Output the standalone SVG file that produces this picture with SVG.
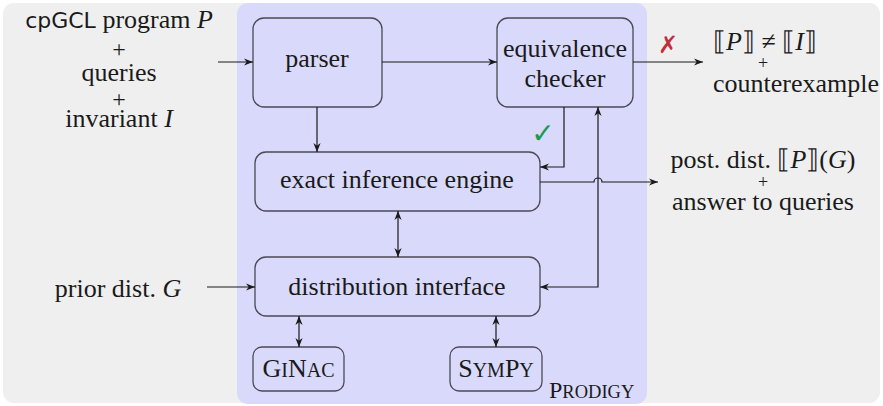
<svg xmlns="http://www.w3.org/2000/svg" width="883" height="406" viewBox="0 0 883 406">
<defs>
<marker id="arr" viewBox="0 0 10 10" refX="10" refY="5" markerWidth="9" markerHeight="9" orient="auto-start-reverse" markerUnits="userSpaceOnUse">
<path d="M0,1 L10,5 L0,9 L3,5 z" fill="#1a1a1a"/>
</marker>
<style>
.box{fill:#d9d9fb;stroke:#4a4a55;stroke-width:1.3}
.t{font-family:'Liberation Serif','Times New Roman','DejaVu Serif',serif;font-size:26px;fill:#1a1a1a}
.m{text-anchor:middle}
.ca{fill:none;stroke:#1a1a1a;stroke-width:1.2;marker-end:url(#arr)}
.cb{fill:none;stroke:#1a1a1a;stroke-width:1.2;marker-end:url(#arr);marker-start:url(#arr)}
.sc{font-size:20px}
.pl{font-size:24px}
.pr{font-size:18px}
.sym{font-family:'DejaVu Sans',sans-serif;text-anchor:middle}
</style>
</defs>
<rect x="3" y="3" width="877" height="400" rx="11" fill="#efefef"/>
<g id="prodigy">
<rect x="237" y="3" width="410" height="401" rx="11" fill="#d9d9fb"/>
<text class="t" x="549" y="398" style="font-size:24px">P<tspan style="font-size:18.5px">RODIGY</tspan></text>
</g>
<g id="inputs">
<text class="t m" x="119" y="28"><tspan style="font-family:'DejaVu Sans','Liberation Sans',sans-serif;font-size:22px">cpGCL</tspan> program <tspan font-style="italic">P</tspan></text>
<text class="t m pl" x="119" y="57">+</text>
<text class="t m" x="119" y="81">queries</text>
<text class="t m pl" x="119" y="107">+</text>
<text class="t m" x="119" y="127">invariant <tspan font-style="italic">I</tspan></text>
</g>
<g id="prior">
<text class="t m" x="118" y="297">prior dist. <tspan font-style="italic">G</tspan></text>
</g>
<g id="parser">
<rect class="box" x="253" y="18" width="129" height="89" rx="11"/>
<text class="t m" x="317" y="67">parser</text>
</g>
<g id="equiv">
<rect class="box" x="497" y="18" width="136" height="89" rx="11"/>
<text class="t m" x="565" y="57">equivalence</text>
<text class="t m" x="565" y="87">checker</text>
</g>
<g id="engine">
<rect class="box" x="255" y="152" width="285" height="59" rx="11"/>
<text class="t m" x="397" y="188">exact inference engine</text>
</g>
<g id="distint">
<rect class="box" x="255" y="257" width="285" height="59" rx="11"/>
<text class="t m" x="397" y="295">distribution interface</text>
</g>
<g id="ginac">
<rect class="box" x="253" y="347" width="91" height="44" rx="9"/>
<text class="t m" x="298.5" y="377">G<tspan class="sc">I</tspan>N<tspan class="sc">AC</tspan></text>
</g>
<g id="sympy">
<rect class="box" x="450" y="347" width="92" height="44" rx="9"/>
<text class="t m" x="496" y="377">S<tspan class="sc">YM</tspan>P<tspan class="sc">Y</tspan></text>
</g>
<g id="out1">
<text class="t" x="713" y="50">⟦<tspan font-style="italic">P</tspan>⟧ ≠ ⟦<tspan font-style="italic">I</tspan>⟧</text>
<text class="t m pr" x="763" y="69">+</text>
<text class="t" x="713" y="92">counterexample</text>
</g>
<g id="out2">
<text class="t m" x="763" y="168">post. dist. ⟦<tspan font-style="italic">P</tspan>⟧(<tspan font-style="italic">G</tspan>)</text>
<text class="t m pr" x="763" y="188">+</text>
<text class="t m" x="763" y="210">answer to queries</text>
</g>
<g id="connectors">
<path class="ca" d="M218,62 H253"/>
<path class="ca" d="M382,62 H497"/>
<path class="ca" d="M633,62 H703"/>
<path class="ca" d="M317,107 V152"/>
<path class="ca" d="M564,107 V167 H540"/>
<path class="cb" d="M540,287 H598 V107"/>
<path class="ca" d="M540,182 H594 A4,4 0 0 1 602,182 H658"/>
<path class="cb" d="M398,211 V257"/>
<path class="ca" d="M207,287 H255"/>
<path class="cb" d="M299,316 V347"/>
<path class="cb" d="M496,316 V347"/>
<text class="sym" x="668" y="53" style="font-size:24px;fill:#c0303c">✗</text>
<text class="sym" x="543" y="143" style="font-size:28px;fill:#1a9a50">✓</text>
</g>
</svg>
